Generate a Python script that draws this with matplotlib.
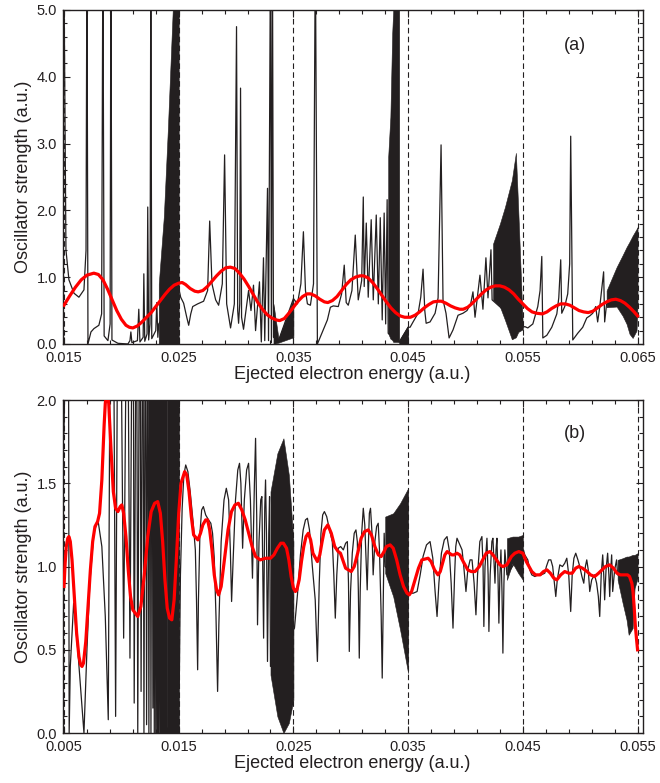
import matplotlib
matplotlib.use('Agg')
import matplotlib.pyplot as plt
from matplotlib.ticker import FixedLocator, MultipleLocator, FormatStrFormatter
import numpy as np

plt.rcParams['font.family'] = ['Liberation Sans', 'DejaVu Sans']

INK = '#231f20'

# ---------------- panel (a) ----------------
a_thresholds = [0.015, 0.025, 0.035, 0.045, 0.055, 0.065]

a_red_x = [0.0150, 0.0155, 0.0160, 0.0165, 0.0170, 0.0176, 0.0180, 0.0184, 0.0188, 0.0192,
           0.0196, 0.0200, 0.0204, 0.0207, 0.0210, 0.0214, 0.0218, 0.0222, 0.0226, 0.0230,
           0.0234, 0.0238, 0.0242, 0.0246, 0.0250, 0.0253, 0.0256, 0.0260, 0.0264, 0.0267,
           0.0271, 0.0275, 0.0279, 0.0283, 0.0287, 0.0291, 0.0295, 0.0299, 0.0303, 0.0307,
           0.0311, 0.0315, 0.0319, 0.0323, 0.0327, 0.0331, 0.0335, 0.0338, 0.0342, 0.0346,
           0.0350, 0.0354, 0.0358, 0.0362, 0.0365, 0.0369, 0.0373, 0.0377, 0.0380, 0.0384,
           0.0388, 0.0392, 0.0396, 0.0400, 0.0404, 0.0408, 0.0411, 0.0415, 0.0419, 0.0423,
           0.0427, 0.0431, 0.0435, 0.0439, 0.0443, 0.0447, 0.0452, 0.0456, 0.0460, 0.0464,
           0.0468, 0.0472, 0.0476, 0.0479, 0.0483, 0.0487, 0.0491, 0.0495, 0.0498, 0.0502,
           0.0506, 0.0510, 0.0514, 0.0518, 0.0522, 0.0526, 0.0530, 0.0534, 0.0538, 0.0542,
           0.0546, 0.0550, 0.0554, 0.0558, 0.0562, 0.0567, 0.0571, 0.0575, 0.0579, 0.0583,
           0.0587, 0.0591, 0.0595, 0.0599, 0.0603, 0.0607, 0.0611, 0.0615, 0.0619, 0.0623,
           0.0627, 0.0631, 0.0635, 0.0639, 0.0643, 0.0647, 0.0650]
a_red_y = [0.58, 0.72, 0.85, 0.96, 1.03, 1.06, 1.04, 0.96, 0.82, 0.66,
           0.50, 0.37, 0.28, 0.25, 0.24, 0.27, 0.33, 0.40, 0.47, 0.56,
           0.65, 0.74, 0.82, 0.88, 0.91, 0.92, 0.89, 0.83, 0.79, 0.78,
           0.80, 0.86, 0.94, 1.02, 1.09, 1.14, 1.15, 1.13, 1.06, 0.97,
           0.86, 0.74, 0.62, 0.52, 0.44, 0.39, 0.36, 0.35, 0.38, 0.46,
           0.55, 0.64, 0.71, 0.75, 0.75, 0.72, 0.67, 0.63, 0.62, 0.65,
           0.71, 0.80, 0.89, 0.96, 1.00, 1.02, 1.02, 0.99, 0.92, 0.83,
           0.73, 0.63, 0.54, 0.47, 0.42, 0.40, 0.40, 0.43, 0.48, 0.54,
           0.59, 0.63, 0.64, 0.64, 0.61, 0.57, 0.54, 0.52, 0.52, 0.55,
           0.61, 0.68, 0.75, 0.81, 0.85, 0.87, 0.87, 0.85, 0.81, 0.75,
           0.67, 0.60, 0.53, 0.48, 0.46, 0.45, 0.48, 0.53, 0.57, 0.60,
           0.60, 0.58, 0.54, 0.50, 0.48, 0.47, 0.49, 0.54, 0.59, 0.63,
           0.66, 0.67, 0.65, 0.61, 0.55, 0.48, 0.42]

a_black_x = [0.01500, 0.01517, 0.01543, 0.01587, 0.01630, 0.01674, 0.01692, 0.01700, 0.01709, 0.01735,
             0.01761, 0.01804, 0.01828, 0.01839, 0.01850, 0.01883, 0.01902, 0.01909, 0.01918, 0.01970,
             0.02057, 0.02075, 0.02083, 0.02092, 0.02140, 0.02152, 0.02162, 0.02190, 0.02196, 0.02204,
             0.02224, 0.02230, 0.02238, 0.02250, 0.02257, 0.02265, 0.02300, 0.02309, 0.02318, 0.02326,
             0.02505, 0.02517, 0.02543, 0.02570, 0.02587, 0.02605, 0.02622, 0.02665, 0.02717, 0.02752,
             0.02770, 0.02790, 0.02822, 0.02848, 0.02880, 0.02900, 0.02918, 0.02952, 0.02985, 0.03004,
             0.03014, 0.03022, 0.03032, 0.03039, 0.03048, 0.03065, 0.03090, 0.03109, 0.03130, 0.03152,
             0.03170, 0.03204, 0.03220, 0.03239, 0.03250, 0.03274, 0.03283, 0.03300, 0.03308, 0.03317,
             0.03326, 0.03370, 0.03500, 0.03535, 0.03565, 0.03587, 0.03605, 0.03622, 0.03648, 0.03675,
             0.03691, 0.03709, 0.03752, 0.03796, 0.03822, 0.03848, 0.03891, 0.03920, 0.03943, 0.03960,
             0.03978, 0.04010, 0.04039, 0.04065, 0.04095, 0.04109, 0.04117, 0.04135, 0.04152, 0.04178,
             0.04196, 0.04222, 0.04240, 0.04257, 0.04274, 0.04291, 0.04304, 0.04317, 0.04326, 0.04422,
             0.04500, 0.04517, 0.04543, 0.04587, 0.04610, 0.04630, 0.04645, 0.04657, 0.04691, 0.04735,
             0.04761, 0.04787, 0.04804, 0.04830, 0.04857, 0.04891, 0.04935, 0.04978, 0.05013, 0.05045,
             0.05065, 0.05083, 0.05126, 0.05152, 0.05178, 0.05196, 0.05222, 0.05232, 0.05500, 0.05517,
             0.05543, 0.05587, 0.05630, 0.05650, 0.05665, 0.05674, 0.05709, 0.05752, 0.05796, 0.05813,
             0.05830, 0.05839, 0.05865, 0.05891, 0.05908, 0.05917, 0.05935, 0.05978, 0.06022, 0.06057,
             0.06083, 0.06109, 0.06135, 0.06152, 0.06170, 0.06204, 0.06213, 0.06230, 0.06500]
a_black_y = [5.50, 1.41, 0.96, 0.76, 0.70, 0.81, 1.40, 6.00, 0.00, 0.18,
             0.23, 0.28, 0.45, 6.00, 0.12, 0.05, 0.30, 6.00, 0.06, 0.01,
             0.00, 0.05, 0.18, 0.02, 0.05, 0.52, 0.03, 0.10, 1.05, 0.04,
             0.15, 2.05, 0.06, 0.30, 6.00, 0.08, 0.20, 0.62, 0.10, 0.30,
             0.80, 0.70, 0.61, 0.40, 0.28, 0.45, 0.56, 0.60, 0.64, 0.80,
             1.84, 0.90, 0.66, 0.58, 0.90, 2.83, 0.60, 0.24, 0.60, 4.75,
             0.50, 0.31, 0.60, 3.83, 0.40, 0.22, 0.55, 0.80, 0.50, 0.88,
             0.20, 0.93, 0.03, 1.29, 0.05, 2.33, 0.05, 6.00, 0.02, 6.00,
             0.10, 0.05, 0.68, 0.60, 0.90, 1.68, 0.80, 0.60, 0.58, 0.90,
             6.00, 0.00, 0.18, 0.36, 0.55, 0.57, 0.56, 0.75, 1.18, 0.62,
             0.58, 0.80, 1.63, 0.66, 0.95, 2.20, 0.86, 1.81, 0.70, 1.86,
             0.66, 1.93, 0.60, 1.89, 0.36, 1.96, 0.30, 2.16, 0.16, 0.03,
             0.25, 0.25, 0.33, 0.46, 0.70, 1.12, 0.50, 0.31, 0.33, 0.46,
             0.69, 2.98, 0.66, 0.46, 0.09, 0.21, 0.43, 0.46, 0.50, 0.60,
             0.78, 0.40, 1.03, 0.52, 1.29, 0.69, 1.41, 0.66, 0.25, 0.26,
             0.24, 0.30, 0.56, 0.80, 1.31, 0.09, 0.13, 0.25, 0.45, 0.69,
             1.26, 0.46, 0.56, 0.75, 1.20, 3.11, 0.06, 0.16, 0.25, 0.39,
             0.42, 0.46, 0.56, 0.33, 0.55, 1.08, 0.33, 0.60, 0.60]

# dense resonance series (envelopes of the unresolved oscillations)
a_band_x = [[0.02326, 0.02370, 0.02405, 0.02448, 0.02500],
            [0.03326, 0.03370, 0.03500],
            [0.04326, 0.04345, 0.04361, 0.04370, 0.04413, 0.04422],
            [0.04422, 0.04500],
            [0.05240, 0.05300, 0.05344, 0.05404, 0.05439, 0.05460, 0.05500],
            [0.06230, 0.06317, 0.06370, 0.06404, 0.06430, 0.06457, 0.06491, 0.06500]]
a_band_top = [[0.90, 1.90, 3.20, 5.00, 5.00],
              [0.60, 0.08, 0.68],
              [2.80, 3.40, 4.65, 5.00, 5.00, 5.00],
              [0.05, 0.28],
              [1.50, 1.80, 2.05, 2.45, 2.86, 2.00, 0.25],
              [0.80, 1.15, 1.33, 1.45, 1.53, 1.62, 1.72, 1.75]]
a_band_low = [[0.00, 0.00, 0.00, 0.00, 0.00],
              [0.00, 0.02, 0.10],
              [0.16, 0.08, 0.06, 0.03, 0.03, 0.03],
              [0.00, 0.00],
              [0.66, 0.56, 0.36, 0.07, 0.10, 0.18, 0.22],
              [0.55, 0.56, 0.42, 0.30, 0.15, 0.09, 0.20, 0.60]]

# ---------------- panel (b) ----------------
b_thresholds = [0.005, 0.015, 0.025, 0.035, 0.045, 0.055]

b_red_x = [0.0050, 0.0051, 0.0052, 0.00533, 0.00543, 0.00555, 0.0057, 0.0059, 0.0061, 0.0063,
           0.00645, 0.00657, 0.0067, 0.0069, 0.0071, 0.0073, 0.0075, 0.0077, 0.00793, 0.0081,
           0.0083, 0.0085, 0.0086, 0.00874, 0.0089, 0.0091, 0.0093, 0.0095, 0.0097, 0.0099,
           0.01004, 0.0102, 0.0104, 0.0106, 0.0108, 0.0110, 0.01143, 0.0117, 0.0120, 0.0123,
           0.0126, 0.0129, 0.01317, 0.0134, 0.0136, 0.0138, 0.0140, 0.0142, 0.0144, 0.0146,
           0.0148, 0.0150, 0.0152, 0.01552, 0.0157, 0.0159, 0.0161, 0.0163, 0.01667, 0.0169,
           0.0171, 0.01735, 0.01752, 0.0177, 0.0179, 0.0181, 0.0183, 0.01848, 0.0187, 0.0190,
           0.0193, 0.0196, 0.0199, 0.0202, 0.0205, 0.0208, 0.0211, 0.0214, 0.0217, 0.0221,
           0.0226, 0.0230, 0.0233, 0.0236, 0.0239, 0.02413, 0.0244, 0.0246, 0.0248, 0.0250,
           0.02517, 0.0253, 0.0255, 0.0257, 0.0259, 0.0261, 0.0263, 0.0265, 0.0267, 0.02709,
           0.0273, 0.0275, 0.0277, 0.0280, 0.0283, 0.0286, 0.0289, 0.0291, 0.0293, 0.02955,
           0.03004, 0.0303, 0.0306, 0.0309, 0.0312, 0.03152, 0.0318, 0.0321, 0.0324, 0.03265,
           0.0329, 0.0331, 0.03343, 0.0337, 0.0340, 0.0343, 0.0346, 0.0349, 0.0351, 0.0353,
           0.0356, 0.0359, 0.0362, 0.03674, 0.0370, 0.0373, 0.0376, 0.0378, 0.0380, 0.0382,
           0.0384, 0.0386, 0.0388, 0.0390, 0.03926, 0.0395, 0.0398, 0.0402, 0.0405, 0.04083,
           0.0412, 0.0415, 0.0418, 0.04213, 0.0424, 0.0427, 0.0430, 0.04326, 0.0436, 0.0440,
           0.0443, 0.04465, 0.0450, 0.0453, 0.04578, 0.0461, 0.0465, 0.0468, 0.0471, 0.0474,
           0.0477, 0.04796, 0.0483, 0.04865, 0.0490, 0.0493, 0.0496, 0.04987, 0.0502, 0.0506,
           0.0509, 0.05126, 0.0516, 0.0519, 0.0522, 0.05257, 0.0529, 0.0532, 0.0535, 0.0538,
           0.05413, 0.0543, 0.0545, 0.0546, 0.0547, 0.0548, 0.0549, 0.0550]
b_red_y = [0.88, 1.02, 1.12, 1.17, 1.18, 1.15, 1.04, 0.82, 0.60, 0.46,
           0.41, 0.40, 0.42, 0.55, 0.76, 0.98, 1.15, 1.24, 1.27, 1.32,
           1.52, 1.85, 1.98, 2.05, 1.98, 1.70, 1.45, 1.35, 1.33, 1.36,
           1.37, 1.32, 1.18, 0.98, 0.82, 0.74, 0.70, 0.76, 0.95, 1.18,
           1.33, 1.38, 1.39, 1.32, 1.15, 0.92, 0.75, 0.69, 0.68, 0.80,
           1.05, 1.32, 1.50, 1.57, 1.55, 1.45, 1.30, 1.19, 1.16, 1.20,
           1.25, 1.28, 1.28, 1.22, 1.10, 0.95, 0.86, 0.83, 0.88, 1.05,
           1.22, 1.33, 1.37, 1.38, 1.34, 1.28, 1.20, 1.12, 1.06, 1.04,
           1.05, 1.05, 1.07, 1.11, 1.14, 1.14, 1.11, 1.04, 0.94, 0.87,
           0.85, 0.86, 0.92, 1.03, 1.12, 1.18, 1.20, 1.16, 1.08, 1.03,
           1.07, 1.15, 1.22, 1.25, 1.20, 1.12, 1.09, 1.08, 1.04, 0.99,
           0.97, 1.00, 1.08, 1.17, 1.21, 1.22, 1.19, 1.12, 1.07, 1.06,
           1.09, 1.12, 1.13, 1.11, 1.04, 0.95, 0.88, 0.84, 0.83, 0.85,
           0.92, 0.99, 1.04, 1.05, 1.03, 0.98, 0.95, 0.97, 1.02, 1.07,
           1.09, 1.08, 1.07, 1.07, 1.08, 1.07, 1.03, 0.98, 0.97, 0.97,
           1.00, 1.04, 1.08, 1.09, 1.07, 1.04, 1.01, 1.00, 1.01, 1.06,
           1.08, 1.09, 1.08, 1.03, 0.97, 0.95, 0.95, 0.97, 0.98, 0.96,
           0.93, 0.92, 0.95, 0.97, 0.96, 0.96, 0.99, 1.00, 0.99, 0.97,
           0.95, 0.94, 0.96, 0.98, 1.00, 1.01, 0.99, 0.96, 0.95, 0.95,
           0.95, 0.94, 0.90, 0.85, 0.76, 0.65, 0.57, 0.50]

# black curve of panel (b), read segment by segment
b_seg1_x = [0.00500, 0.00508, 0.00540, 0.00545, 0.00555, 0.00584, 0.00620, 0.00674, 0.00700, 0.00725,
            0.00760, 0.00796, 0.00830, 0.00860, 0.00886, 0.00900, 0.00935, 0.00950, 0.00965, 0.01000,
            0.01020, 0.01040, 0.01060, 0.01075, 0.01090, 0.01105, 0.01112, 0.01125, 0.01135, 0.01143,
            0.01155, 0.01165, 0.01172, 0.01182, 0.01190, 0.01197, 0.01206, 0.01213, 0.01220, 0.01228,
            0.01234, 0.01240, 0.01248, 0.01253, 0.01258, 0.01265, 0.01270, 0.01275, 0.01282, 0.01287,
            0.01294, 0.01300, 0.01306, 0.01312, 0.01318, 0.01323, 0.01329, 0.01335, 0.01341, 0.01346,
            0.01352, 0.01357, 0.01363, 0.01368, 0.01374, 0.01379, 0.01385, 0.01390, 0.01395, 0.01400]
b_seg1_y = [1.80, 2.20, 2.20, 0.00, 0.40, 0.78, 0.50, 0.00, 0.50, 0.90,
            1.20, 1.28, 1.12, 0.70, 0.08, 2.20, 2.20, 0.10, 2.20, 2.20,
            0.57, 2.20, 2.20, 0.45, 2.20, 2.20, 0.18, 2.20, 2.20, 0.00,
            2.20, 2.20, 0.25, 2.20, 2.20, 0.00, 2.20, 2.20, 0.05, 2.20,
            2.20, 0.00, 2.20, 2.20, 0.00, 2.20, 2.20, 0.15, 2.20, 0.00,
            2.20, 0.00, 2.20, 0.00, 2.20, 0.00, 2.20, 0.00, 2.20, 0.00,
            2.20, 0.00, 2.20, 0.00, 2.20, 0.00, 2.20, 0.00, 2.20, 0.00]

b_seg2_x = [0.01505, 0.01515, 0.01530, 0.01545, 0.01561, 0.01580, 0.01600, 0.01625, 0.01645, 0.01655,
            0.01665, 0.01672, 0.01685, 0.01700, 0.01715, 0.01735, 0.01760, 0.01780, 0.01795, 0.01810,
            0.01825, 0.01839, 0.01850, 0.01870, 0.01895, 0.01915, 0.01935, 0.01950, 0.01961, 0.01975,
            0.01995, 0.02015, 0.02030, 0.02042, 0.02057, 0.02072, 0.02092, 0.02109, 0.02125, 0.02143,
            0.02160, 0.02170, 0.02180, 0.02187, 0.02200, 0.02215, 0.02225, 0.02240, 0.02250, 0.02257,
            0.02265, 0.02274, 0.02285, 0.02292, 0.02300]
b_seg2_y = [0.30, 0.95, 1.35, 1.55, 1.61, 1.57, 1.45, 1.27, 1.10, 0.80,
            0.38, 0.80, 1.20, 1.34, 1.36, 1.31, 1.28, 1.26, 1.20, 1.05,
            0.70, 0.25, 0.65, 1.15, 1.40, 1.47, 1.40, 1.10, 0.79, 1.05,
            1.40, 1.58, 1.62, 1.50, 1.11, 1.40, 1.58, 1.62, 1.40, 0.93,
            1.50, 1.77, 1.30, 0.65, 1.15, 1.40, 1.42, 0.57, 1.35, 1.52,
            1.20, 0.43, 1.20, 1.42, 0.40]

b_seg3_x = [0.02509, 0.02535, 0.02561, 0.02585, 0.02605, 0.02622, 0.02640, 0.02665, 0.02690, 0.02709,
            0.02725, 0.02740, 0.02755, 0.02770, 0.02790, 0.02815, 0.02839, 0.02852, 0.02865, 0.02878,
            0.02891, 0.02912, 0.02935, 0.02955, 0.02970, 0.02980, 0.02987, 0.02998, 0.03013, 0.03030,
            0.03045, 0.03057, 0.03066, 0.03074, 0.03082, 0.03095, 0.03109, 0.03122, 0.03135, 0.03143,
            0.03152, 0.03162, 0.03172, 0.03185, 0.03195, 0.03210, 0.03225, 0.03239, 0.03250, 0.03265,
            0.03274, 0.03283, 0.03291, 0.03300]
b_seg3_y = [0.63, 0.83, 1.07, 1.22, 1.28, 1.29, 1.22, 1.00, 0.80, 0.43,
            0.90, 1.20, 1.31, 1.33, 1.30, 1.22, 1.15, 0.95, 0.69, 0.95,
            1.11, 1.12, 1.10, 1.14, 1.15, 0.90, 0.49, 0.85, 1.08, 1.20,
            1.22, 1.15, 0.85, 0.45, 0.85, 1.20, 1.35, 1.25, 1.00, 0.86,
            1.10, 1.32, 1.35, 1.20, 0.95, 1.15, 1.24, 1.26, 1.10, 0.70,
            0.33, 0.80, 1.20, 1.00]

b_seg4_x = [0.03517, 0.03545, 0.03578, 0.03605, 0.03630, 0.03660, 0.03691, 0.03715, 0.03735, 0.03752,
            0.03768, 0.03790, 0.03815, 0.03839, 0.03858, 0.03875, 0.03891, 0.03905, 0.03915, 0.03926,
            0.03945, 0.03970, 0.03985, 0.04004, 0.04020, 0.04040, 0.04057, 0.04075, 0.04091, 0.04105,
            0.04125, 0.04143, 0.04153, 0.04160, 0.04170, 0.04187, 0.04197, 0.04204, 0.04215, 0.04230,
            0.04239, 0.04250, 0.04257, 0.04266, 0.04274, 0.04283, 0.04291, 0.04300, 0.04309, 0.04318,
            0.04326, 0.04335, 0.04343, 0.04361]
b_seg4_y = [0.84, 0.84, 0.85, 0.95, 1.06, 1.13, 1.15, 1.05, 0.85, 0.70,
            0.90, 1.08, 1.16, 1.18, 1.10, 0.90, 0.63, 0.95, 1.12, 1.17,
            1.14, 1.10, 1.00, 0.85, 0.98, 1.04, 1.04, 0.90, 0.71, 0.95,
            1.15, 1.18, 1.00, 0.64, 1.00, 1.17, 0.95, 0.61, 0.95, 1.15,
            1.17, 1.00, 0.90, 1.10, 1.17, 0.95, 0.66, 0.95, 1.10, 0.85,
            0.48, 0.90, 1.10, 0.95]

b_seg5_x = [0.04505, 0.04517, 0.04543, 0.04560, 0.04578, 0.04605, 0.04630, 0.04660, 0.04691, 0.04705,
            0.04725, 0.04744, 0.04760, 0.04775, 0.04787, 0.04800, 0.04822, 0.04845, 0.04865, 0.04883,
            0.04900, 0.04917, 0.04930, 0.04945, 0.04961, 0.04980, 0.04996, 0.05015, 0.05031, 0.05045,
            0.05057, 0.05070, 0.05083, 0.05100, 0.05125, 0.05143, 0.05158, 0.05170, 0.05183, 0.05196,
            0.05205, 0.05213, 0.05225, 0.05239, 0.05250, 0.05257, 0.05266, 0.05274, 0.05283, 0.05300,
            0.05317, 0.05326, 0.05500]
b_seg5_y = [1.10, 1.07, 1.04, 0.98, 0.95, 0.94, 0.95, 0.95, 0.96, 1.00,
            1.04, 1.04, 1.00, 0.90, 0.82, 0.92, 1.01, 1.00, 1.02, 1.05,
            0.95, 0.73, 0.95, 1.05, 1.08, 1.04, 1.00, 0.94, 0.90, 1.00,
            1.04, 0.98, 0.85, 0.92, 0.95, 0.90, 0.82, 0.70, 0.95, 1.07,
            0.95, 0.80, 0.98, 1.08, 0.95, 0.82, 0.98, 1.07, 0.85, 0.98,
            1.04, 0.95, 0.93]

b_black_x = np.concatenate([b_seg1_x, b_seg2_x, b_seg3_x, b_seg4_x, b_seg5_x])
b_black_y = np.concatenate([b_seg1_y, b_seg2_y, b_seg3_y, b_seg4_y, b_seg5_y])

b_band_x = [[0.01400, 0.01500],
            [0.02300, 0.02360, 0.02413, 0.02460, 0.02500],
            [0.03300, 0.03370, 0.03430, 0.03500],
            [0.04361, 0.04410, 0.04460, 0.04500],
            [0.05326, 0.05370, 0.05404, 0.05422, 0.05457, 0.05474, 0.05500]]
b_band_top = [[2.20, 2.20],
              [1.45, 1.68, 1.77, 1.55, 1.15],
              [1.30, 1.32, 1.38, 1.47],
              [1.17, 1.18, 1.18, 1.19],
              [1.04, 1.05, 1.06, 1.06, 1.07, 1.07, 1.08]]
b_band_low = [[0.00, 0.00],
              [0.35, 0.10, 0.00, 0.06, 0.20],
              [0.96, 0.82, 0.62, 0.36],
              [0.92, 1.02, 0.96, 0.92],
              [0.92, 0.78, 0.68, 0.59, 0.63, 0.87, 0.93]]


def draw_panel(ax, thresholds, bx, btop, blow, kx, ky, rx, ry):
    for t in thresholds:
        ax.axvline(t, color=INK, lw=0.8, ls=(0, (5, 3)), zorder=1)
    for x, hi, lo in zip(bx, btop, blow):
        ax.fill_between(x, lo, hi, color=INK, lw=0.4, zorder=2)
    ax.plot(kx, ky, color=INK, lw=0.9, zorder=2)
    ax.plot(rx, ry, color='red', lw=2.3, zorder=3, solid_joinstyle='round')


fig = plt.figure(figsize=(6.6, 7.83), dpi=100)
ax_a = fig.add_axes([0.0947, 0.5607, 0.8788, 0.4266])
ax_b = fig.add_axes([0.0947, 0.0638, 0.8788, 0.4253])

draw_panel(ax_a, a_thresholds, a_band_x, a_band_top, a_band_low,
           a_black_x, a_black_y, a_red_x, a_red_y)
draw_panel(ax_b, b_thresholds, b_band_x, b_band_top, b_band_low,
           b_black_x, b_black_y, b_red_x, b_red_y)

ax_a.set_xlim(0.01487, 0.06543)
ax_a.set_ylim(0, 5)
ax_a.xaxis.set_major_locator(FixedLocator([0.015, 0.025, 0.035, 0.045, 0.055, 0.065]))
ax_a.xaxis.set_minor_locator(FixedLocator(np.arange(0.015, 0.0655, 0.002)))
ax_a.yaxis.set_major_locator(MultipleLocator(1.0))
ax_a.yaxis.set_minor_locator(MultipleLocator(0.2))
ax_a.text(0.884, 0.895, '(a)', transform=ax_a.transAxes, fontsize=13,
          ha='center', va='center', color=INK)

ax_b.set_xlim(0.00487, 0.05543)
ax_b.set_ylim(0, 2)
ax_b.xaxis.set_major_locator(FixedLocator([0.005, 0.015, 0.025, 0.035, 0.045, 0.055]))
ax_b.xaxis.set_minor_locator(FixedLocator(np.arange(0.005, 0.0555, 0.002)))
ax_b.yaxis.set_major_locator(MultipleLocator(0.5))
ax_b.yaxis.set_minor_locator(MultipleLocator(0.1))
ax_b.text(0.884, 0.90, '(b)', transform=ax_b.transAxes, fontsize=13,
          ha='center', va='center', color=INK)

for ax in (ax_a, ax_b):
    ax.xaxis.set_major_formatter(FormatStrFormatter('%.3f'))
    ax.yaxis.set_major_formatter(FormatStrFormatter('%.1f'))
    ax.tick_params(which='both', direction='in', top=True, right=True,
                   width=0.8, colors=INK, labelsize=10.5)
    ax.tick_params(which='major', length=5)
    ax.tick_params(which='minor', length=3)
    ax.tick_params(axis='x', pad=5)
    ax.tick_params(axis='y', pad=4)
    ax.set_xlabel('Ejected electron energy (a.u.)', fontsize=13, color=INK, labelpad=1)
    ax.set_ylabel('Oscillator strength (a.u.)', fontsize=13, color=INK, labelpad=3)
    for s in ax.spines.values():
        s.set_linewidth(1.0)
        s.set_color(INK)

fig.savefig('out.png', dpi=100)
